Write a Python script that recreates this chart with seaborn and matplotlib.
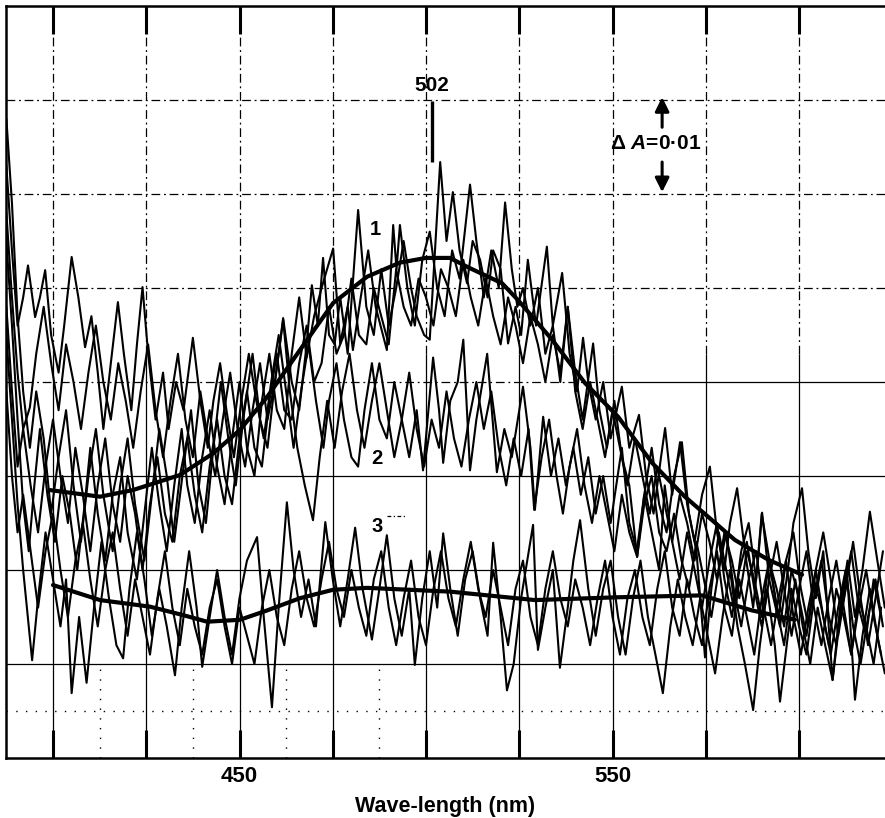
import numpy as np
import pandas as pd
import matplotlib
matplotlib.use("Agg")
import matplotlib.pyplot as plt
import seaborn as sns

# ---------------- data (ΔA in units of 0.01 above chart baseline) ----------------
# smooth (averaged) curves
S1_NM = [399.2, 412.6, 421.4, 434.0, 442.9, 450.1, 457.4, 466.2, 475.1, 484.2, 493.0, 500.0,
         506.4, 511.3, 520.4, 524.7, 533.8, 542.6, 551.5, 560.6, 569.4, 582.8, 591.7, 600.8]
S1_A = [2.85, 2.78, 2.85, 3.01, 3.24, 3.49, 3.84, 4.34, 4.84, 5.12, 5.27, 5.32,
        5.32, 5.22, 5.05, 4.87, 4.45, 3.99, 3.63, 3.14, 2.78, 2.32, 2.11, 1.95]
S3_NM = [400.0, 412.6, 426.0, 434.9, 441.3, 450.1, 457.4, 466.2, 475.1, 484.2, 506.4,
         529.2, 551.5, 574.0, 587.4, 598.9]
S3_A = [1.84, 1.68, 1.61, 1.52, 1.45, 1.47, 1.57, 1.70, 1.79, 1.81, 1.77,
        1.68, 1.71, 1.73, 1.57, 1.47]

# noisy recorded traces, group 1
TA_NM = [387.5, 389, 390.5, 392, 393.8, 395.5, 397.5, 399.5, 401.5, 403.5, 405.5, 407.5, 409.5, 411.5,
         413.5, 416, 418, 420, 422, 424.5, 426.5, 428.5, 430.5, 432.5, 435, 437, 439, 441, 443, 445,
         447, 449, 451, 453.5, 455.5, 457.5, 459.5, 461.7, 464, 466, 468, 469.4, 471, 472.4, 474,
         475.5, 477, 479, 481.8, 484, 486, 488, 490, 492, 494, 496, 497.5, 499.5, 501, 503.8, 505.5,
         507.2, 509, 511, 512.5, 514.5, 516.5, 518, 520, 522, 524, 525.5, 527.3, 529.5, 532.4, 534,
         536.5, 538.5, 540.5, 542.1, 543.5, 545.5, 547.5, 549.5, 552.5, 554.5, 557.1, 559, 561, 563,
         564.1, 566, 568.1, 570, 572, 574, 576.1, 578, 580, 581.5, 583.4, 585.5, 587.7, 589, 590.1,
         592, 594.9, 597, 598.5, 600.8, 602.5, 604.5, 606.5, 609, 611, 613, 615, 617, 619, 621, 623]
TA_A = [6.8, 5.9, 4.7, 3.9, 3.3, 3.9, 3.4, 2.6, 3.2, 3.7, 2.9, 2.3, 3.0, 3.5,
        2.8, 2.2, 2.9, 3.4, 2.7, 2.1, 2.8, 3.5, 3.0, 2.3, 3.1, 3.7, 2.9, 2.5, 3.3, 4.0,
        3.4, 2.9, 3.6, 4.3, 3.6, 3.3, 4.0, 4.68, 4.0, 3.7, 4.4, 5.03, 4.6, 5.32, 4.5,
        4.4, 4.9, 4.3, 5.83, 4.8, 4.5, 5.2, 4.6, 5.0, 5.5, 5.0, 4.7, 4.5, 4.45, 6.34, 5.5,
        6.02, 5.4, 5.05, 5.5, 5.3, 4.9, 5.4, 5.2, 4.41, 4.8, 4.5, 5.3, 4.6, 5.44, 4.6,
        5.16, 4.3, 3.9, 4.47, 4.0, 3.6, 4.0, 3.4, 3.95, 3.3, 3.65, 3.0, 2.6, 3.2,
        3.51, 2.8, 3.36, 2.7, 2.3, 2.8, 3.1, 2.4, 2.0, 2.5, 2.87, 2.2, 1.6, 2.1, 2.61,
        1.9, 1.4, 2.0, 2.5, 2.87, 2.2, 1.7, 2.2, 0.83, 1.6, 2.1, 1.5, 2.0, 2.62, 2.1, 1.6]

TB_NM = [387.5, 389, 390.5, 392, 393.5, 395, 396.5, 398.5, 400.5, 402.5, 404.5, 406.5, 408.5, 410,
         412, 414, 416, 418, 420, 422.5, 424.5, 426.5, 428.5, 430.5, 432.5, 434.5, 436, 438, 440,
         442, 444, 446, 448, 450, 452, 454, 456, 458, 460, 462, 464, 466, 468, 470, 472, 475.1,
         477, 479, 480.4, 482.5, 484.5, 486.5, 489.5, 491.2, 492.1, 493, 495, 497, 499, 501, 503, 505,
         507, 509, 511.8, 513.5, 515.5, 517.5, 519.5, 521.2, 523, 524.5, 526, 528, 530, 532, 534,
         536, 538, 540, 542, 544.8, 546.5, 548.5, 550.5, 552.5, 554.5, 556.6, 558.5, 560.5, 562.5,
         564.5, 566.5, 568.6, 570.5, 572.5, 574.8, 576.5, 578.5, 580.5, 582.5, 584.5, 586.5, 588.5,
         590, 592.5, 594.5, 596.5, 598.5, 600.5, 602.5, 604.5, 606.5, 608.5, 610.5, 612.5, 614.5,
         616.5, 618.5, 620.5, 622.5]
TB_A = [5.5, 4.6, 3.6, 2.7, 2.2, 2.9, 3.5, 2.8, 2.3, 3.0, 2.6, 2.0, 2.7, 3.3,
        2.6, 2.1, 2.8, 3.2, 2.4, 1.9, 2.6, 3.3, 2.7, 2.2, 2.9, 3.5, 2.9, 2.5, 3.2,
        3.7, 3.1, 2.7, 3.4, 4.0, 3.3, 3.0, 3.8, 4.3, 3.7, 3.5, 4.3, 4.9, 4.26, 4.7, 5.0, 5.42,
        4.41, 4.8, 4.34, 4.9, 5.4, 4.8, 4.34, 5.67, 5.2, 5.67, 5.0, 4.6, 5.3, 5.6, 5.0, 4.7,
        5.4, 5.1, 6.1, 5.5, 4.9, 5.4, 5.0, 5.91, 5.2, 4.8, 5.0, 4.6, 5.0, 4.3, 4.6,
        4.0, 4.8, 4.1, 3.6, 4.41, 3.7, 3.3, 3.8, 3.2, 2.9, 2.14, 2.8, 3.3, 2.7,
        2.4, 3.0, 3.36, 2.6, 2.2, 1.07, 1.8, 2.4, 2.0, 1.6, 2.2, 2.5, 1.9,
        2.6, 2.0, 1.5, 2.1, 2.4, 1.8, 1.4, 2.0, 2.4, 1.9, 1.3, 1.8, 2.3,
        1.7, 1.2, 1.7, 2.2]

TC_NM = [387.5, 389, 390.5, 392, 394, 396, 398, 400, 402, 404, 406, 408, 410, 412, 414, 416, 418,
         420, 422, 424, 426, 428, 430, 432, 434, 436, 438, 440, 442, 444, 446, 448, 450, 452, 454,
         456, 458, 460, 462, 464, 466, 468, 470, 472, 474, 476, 478, 480, 482, 484, 486, 488, 490,
         492, 494, 496, 498, 500, 502, 504, 506, 508, 510, 512, 514, 516, 518, 520, 522, 524, 526,
         528, 530, 532, 534, 536, 538, 540, 542, 544, 546, 548, 550, 552, 554, 556, 558, 560, 562,
         564, 566, 568, 570, 572, 574, 576, 578, 580, 582, 584, 586, 588, 590, 592, 594, 596, 598,
         600, 602, 604, 606, 608, 610, 612, 614, 616, 618, 620, 622]
TC_A = [4.8, 3.9, 3.1, 3.5, 2.9, 2.4, 3.1, 3.6, 3.0, 2.5, 3.3, 2.8, 2.2, 2.9, 3.4, 2.7, 2.3,
        3.0, 2.6, 2.0, 2.7, 3.2, 2.6, 2.3, 3.0, 3.4, 2.8, 2.4, 3.1, 3.6, 3.0, 2.7, 3.4, 3.9, 3.3,
        3.1, 3.8, 4.3, 3.7, 3.6, 4.2, 4.6, 4.0, 4.2, 4.8, 4.3, 4.5, 5.1, 4.5, 4.4, 5.0, 4.7, 4.4,
        5.2, 4.8, 4.6, 5.1, 4.9, 4.6, 5.2, 5.0, 4.7, 5.3, 4.9, 4.6, 5.1, 4.7, 4.4, 4.9, 4.6, 4.2,
        4.7, 4.4, 4.0, 4.5, 4.1, 4.8, 3.9, 3.5, 4.0, 3.6, 3.2, 3.7, 3.3, 2.9, 3.4, 3.0, 2.6, 3.1,
        2.7, 2.3, 2.8, 2.5, 2.1, 2.6, 2.3, 1.9, 2.4, 2.1, 1.7, 2.2, 1.9, 1.5, 2.1, 1.8, 1.4, 2.0,
        1.7, 1.3, 1.9, 1.6, 1.2, 1.8, 1.5, 1.1, 1.7, 1.4, 1.0, 1.6]

# group 2
TD_NM = [387.5, 389, 390.5, 392, 393.3, 395.2, 396.5, 397.9, 399.5, 401.5, 403, 405, 406.8, 408.6,
         410.3, 412, 413.5, 415.5, 417.4, 419, 421, 422.5, 424, 425.5, 427.5, 429.5, 431, 433, 435,
         437.5, 439.5, 441.5, 443, 444.8, 446.5, 448.5, 450.5, 452.5, 454.5, 456.5, 458.5, 460.5,
         462.5, 464.5, 466.5, 468.5, 470.5, 472.5, 474, 476, 478, 480, 481.8, 483.5, 485.5, 487.5,
         489.5, 491.5, 493.5, 495.5, 497.5, 499.2, 501.9, 503.5, 504.6, 506.5, 508.5, 510, 511.8,
         513.5, 516.4, 519, 521, 523, 526, 528, 529.2, 531.4, 533.5, 535.5, 537.5, 539.5, 541.5,
         543.5, 545.5, 547.5, 549.5, 552.5, 554.5, 556.5, 558.5, 560.5, 562.5, 564, 566, 568, 570,
         572, 574, 576, 578, 580, 582, 584, 586, 588, 590, 592, 594, 596, 598, 600, 602, 604, 606,
         608, 610, 612, 614, 616, 618, 620, 622]
TD_A = [6.3, 5.4, 4.6, 4.9, 5.24, 4.69, 4.9, 5.19, 4.5, 4.1, 4.6, 5.33, 4.9, 4.37,
        4.7, 4.1, 3.5, 4.2, 4.85, 4.3, 3.7, 4.4, 5.01, 4.3, 3.6, 4.1, 3.5, 4.0, 3.7,
        4.47, 3.8, 3.3, 3.8, 4.2, 3.7, 3.2, 3.8, 4.3, 3.8, 3.4, 4.0, 4.5,
        3.9, 3.3, 3.9, 4.4, 3.8, 3.3, 3.8, 4.2, 3.6, 3.2, 3.1, 3.7, 4.2, 3.6,
        3.4, 4.0, 3.6, 3.2, 3.7, 3.06, 4.26, 3.7, 3.14, 3.8, 4.0, 4.45, 3.06,
        3.6, 4.3, 3.04, 3.5, 3.2, 3.95, 3.3, 2.64, 3.63, 3.0, 3.4, 2.9, 3.3, 2.8,
        3.2, 2.6, 3.0, 2.5, 3.3, 2.5, 2.2, 2.8, 2.4, 2.0, 2.9, 2.3, 1.9, 2.4,
        2.0, 1.6, 2.1, 2.5, 1.9, 1.5, 2.0, 2.3, 1.8, 1.4, 1.9, 2.3, 1.8, 1.3, 1.8, 2.2, 1.6, 1.2,
        1.7, 2.1, 1.6, 1.1, 1.6, 2.0, 1.5, 1.1]

TE_NM = [387.5, 389, 390.5, 392, 393.8, 395.5, 397.5, 399.5, 401.5, 403.5, 405.5, 407.5, 409.5,
         411.5, 413.5, 415.5, 417.5, 419.5, 421.5, 423.5, 425.5, 427.5, 429.5, 431.5, 433.5, 435.5,
         437.5, 439.5, 441.5, 443.5, 445.5, 447.5, 449.5, 451.5, 453.5, 455.5, 457.5, 459.5, 461.7,
         463.5, 465.5, 467.5, 469.7, 471.5, 473.5, 475.5, 477.5, 479.5, 481.5, 483.5, 485.5, 487.5,
         489.5, 491.5, 493.5, 495.5, 497.5, 499.5, 501.5, 503.5, 505.5, 507.5, 509.5, 511.5, 513.5,
         515.5, 517.5, 519.5, 521.5, 523.5, 525.5, 527.5, 529, 531, 533, 535, 536.7, 538.5, 540.5,
         542.5, 544.5, 546.5, 548.5, 550.5, 552.5, 554.5, 556.6, 558.5, 560.5, 562.5, 564.5, 566.5,
         568.5, 570.5, 572.5, 574.5, 576.5, 578.5, 580.5, 582.5, 584.5, 586.5, 588.5, 590.5, 592.5,
         594.5, 596.5, 598.5, 600.5, 602.5, 604.5, 606.5, 608.5, 610.5, 612.5, 614.5, 616.5, 618.5,
         620.5, 622.5]
TE_A = [5.8, 4.9, 4.1, 3.5, 3.73, 4.3, 4.8, 4.2, 3.7, 4.4, 4.0, 3.5, 4.1,
        4.6, 4.0, 3.6, 4.2, 3.8, 3.3, 3.9, 4.4, 3.7, 3.2, 3.8, 4.3, 3.6,
        3.2, 3.9, 3.4, 3.0, 3.6, 4.1, 3.5, 3.1, 3.7, 4.2, 3.6, 4.0, 4.66,
        3.9, 3.3, 2.9, 2.53, 3.2, 3.8, 3.3, 3.9, 4.3, 3.7, 3.3, 3.8, 4.2,
        3.7, 3.2, 3.6, 4.1, 3.5, 3.1, 3.6, 3.3, 3.9, 3.4, 3.1, 3.6, 4.0,
        3.5, 3.9, 3.3, 2.9, 3.4, 3.0, 3.5, 2.64, 3.2, 3.6, 3.0, 2.6, 3.1, 3.5,
        2.9, 2.5, 3.0, 2.6, 2.2, 2.8, 2.4, 2.14, 2.7, 3.0, 2.4, 2.2, 2.6,
        2.1, 1.8, 2.3, 1.9, 1.5, 2.0, 2.4, 1.8, 1.4, 1.9, 2.2, 1.6, 1.2,
        1.7, 2.1, 1.5, 1.1, 1.6, 2.0, 1.5, 1.1, 1.6, 2.0, 1.4, 1.0, 1.5,
        1.9, 1.4]

# group 3
TF_NM = [387.5, 389, 390.5, 392, 394.4, 396, 398, 400, 402, 403.5, 405, 407, 409, 411, 413, 415,
         417, 418.8, 420.5, 422.5, 424.5, 426.5, 428.5, 430.5, 432.7, 434.5, 436.5, 438.5, 440, 442,
         444, 446, 448, 450, 452, 454.7, 456.5, 458.7, 460.5, 462.7, 464.5, 466.5, 468.5, 470.5,
         473, 475, 477, 479, 481, 483, 485.5, 487.5, 489.5, 491.5, 493.5, 495.5, 497, 499, 501, 503,
         504.6, 506.5, 508.5, 510.5, 512.5, 514.5, 516.5, 518, 520, 521.7, 523.5, 525.5, 528.7,
         530, 532, 534, 535.9, 538, 539.5, 541.3, 543.5, 545.5, 547.5, 549.5, 551.5, 553.5, 555.5,
         557.5, 559.5, 561.5, 563.5, 565.5, 567.5, 569.5, 571.5, 573.5, 575.5, 577.5, 579.5, 581.5,
         583.5, 585.5, 587.7, 589.5, 591.5, 593.5, 594.9, 597, 599, 601, 603, 605, 607, 609, 611,
         613, 615, 617, 619, 621, 623]
TF_A = [4.5, 3.6, 2.7, 2.0, 1.04, 1.7, 2.4, 1.9, 1.4, 1.9, 0.69, 1.5, 0.8, 1.6, 2.3, 1.7,
        1.2, 1.06, 1.8, 2.4, 1.9, 1.3, 1.8, 1.4, 0.88, 1.6, 2.2, 1.6, 0.97, 1.5,
        2.0, 1.5, 1.1, 1.7, 2.1, 2.35, 1.5, 0.54, 1.6, 2.72, 2.0, 1.5, 1.9, 1.4,
        2.51, 1.9, 1.4, 1.9, 2.45, 1.8, 1.26, 1.8, 2.37, 1.7, 1.3, 1.8, 0.99, 1.7, 2.2, 1.6,
        2.39, 1.8, 1.3, 1.9, 2.2, 1.7, 1.3, 2.29, 1.5, 0.72, 1.0, 1.7, 2.48,
        1.15, 1.6, 2.0, 0.96, 1.6, 2.1, 2.53, 1.8, 1.3, 1.8, 2.1, 1.5, 1.1, 1.7,
        2.1, 1.5, 1.1, 0.69, 1.4, 1.9, 1.5, 1.2, 1.7, 1.3, 0.9, 1.5, 2.0,
        1.4, 1.0, 0.51, 1.2, 1.8, 1.2, 0.6, 1.3, 1.9, 1.4, 1.0, 1.6, 1.2, 0.83, 1.5,
        1.9, 0.62, 1.3, 1.8, 1.3, 0.9]

TG_NM = [387.5, 389, 390.5, 392, 394, 396, 398, 400, 402, 404, 406, 408, 410, 412, 414, 416, 418,
         420, 422, 424, 426, 428, 430, 432, 434, 436, 438, 440, 442, 444, 446, 448, 450, 452, 454,
         456, 458, 460, 462, 464, 466, 468, 470, 472, 474, 476, 478, 480, 482, 484, 486, 488, 490,
         492, 494, 496, 498, 500, 502, 504, 506, 508, 510, 512, 514, 516, 518, 520, 522, 524, 526,
         528, 530, 532, 534, 536, 538, 540, 542, 544, 546, 548, 550, 552, 554, 556, 558, 560, 562,
         564, 566, 568, 570, 572, 574, 576, 578, 580, 582, 584, 586, 588, 590, 592, 594, 596, 598,
         600, 602, 604, 606, 608, 610, 612, 614, 616, 618, 620, 622]
TG_A = [3.9, 3.0, 2.4, 2.8, 2.2, 1.6, 2.2, 2.6, 2.0, 1.5, 2.1, 2.5, 1.9, 1.4, 2.0, 2.4, 1.8,
        1.3, 1.9, 1.5, 1.1, 1.7, 2.2, 1.6, 1.2, 1.8, 1.4, 1.1, 1.6, 1.9, 1.4, 1.0, 1.6, 1.3, 1.0,
        1.6, 2.0, 1.5, 1.2, 1.8, 2.2, 1.7, 1.4, 1.9, 2.3, 1.8, 1.5, 2.0, 1.6, 1.3, 1.9, 2.2, 1.6,
        1.2, 1.7, 2.1, 1.5, 1.2, 1.8, 2.2, 1.7, 1.4, 1.9, 2.3, 1.8, 1.5, 2.0, 1.6, 1.2, 1.8, 2.1,
        1.5, 1.2, 1.8, 2.2, 1.7, 1.4, 1.9, 1.6, 1.2, 1.7, 2.1, 1.5, 1.1, 1.7, 2.0, 1.5, 1.2, 1.8,
        2.2, 1.6, 1.3, 1.9, 1.5, 1.2, 1.8, 2.2, 1.6, 1.3, 1.9, 1.5, 1.1, 1.7, 2.1, 1.6, 1.2, 1.8,
        1.4, 1.1, 1.7, 2.1, 1.5, 1.2, 1.8, 2.2, 1.6, 1.3, 1.9, 1.5]

TICK_NM = [400, 425, 450, 475, 500, 525, 550, 575, 600]
TICK_LABELS = ["", "", "450", "", "", "", "550", "", ""]
GRID_A = [1, 2, 3, 4, 5, 6, 7]
PEAK_NM = 501.6
PEAK_LABEL = "502"
CURVE_LABELS = [("1", 486.3, 5.62), ("2", 486.9, 3.19), ("3", 486.9, 2.46)]

# ---------------- figure ----------------
sns.set_theme(style="white")
plt.rcParams["font.family"] = ["Liberation Sans", "DejaVu Sans"]
plt.rcParams["font.weight"] = "bold"
plt.rcParams["text.color"] = "black"
plt.rcParams["axes.labelcolor"] = "black"
plt.rcParams["xtick.color"] = "black"
plt.rcParams["xtick.labelcolor"] = "black"
plt.rcParams["mathtext.fontset"] = "custom"
plt.rcParams["mathtext.rm"] = "Liberation Sans:bold"
plt.rcParams["mathtext.it"] = "Liberation Sans:italic:bold"
plt.rcParams["lines.solid_joinstyle"] = "round"

fig = plt.figure(figsize=(8.85, 8.18), dpi=100)
ax = fig.add_axes([6 / 885, 60 / 818, 879 / 885, 752 / 818])
ax.set_facecolor("white")

XMIN, XMAX = 387.4, 623.05
ax.set_xlim(XMIN, XMAX)
ax.set_ylim(0, 8)

DASHDOT = (0, (7, 3, 1.5, 3))
# chart-paper grid
for x in TICK_NM:
    ax.vlines(x, 0, 4.3, color="black", lw=0.9, zorder=1)
    ax.vlines(x, 4.3, 8, color="black", lw=0.9, linestyles=DASHDOT, zorder=1)
for a in GRID_A:
    if a <= 3:
        ax.hlines(a, XMIN, XMAX, color="black", lw=0.9, zorder=1)
    elif a == 4:
        ax.hlines(a, XMIN, 550, color="black", lw=0.9, linestyles=DASHDOT, zorder=1)
        ax.hlines(a, 550, XMAX, color="black", lw=0.9, zorder=1)
    else:
        ax.hlines(a, XMIN, XMAX, color="black", lw=0.9, linestyles=DASHDOT, zorder=1)
ax.hlines(0.5, XMIN, XMAX, color="black", lw=1.0, linestyles=(0, (1, 6)), zorder=1)
for x in [412.5, 437.5, 462.5, 487.5]:
    ax.vlines(x, 0, 1, color="black", lw=1.0, linestyles=(0, (1, 6)), zorder=1)

# noisy traces
traces = {"A": (TA_NM, TA_A), "B": (TB_NM, TB_A), "C": (TC_NM, TC_A), "D": (TD_NM, TD_A),
          "E": (TE_NM, TE_A), "F": (TF_NM, TF_A), "G": (TG_NM, TG_A)}
rows = []
for name, (xs, ys) in traces.items():
    for x, y in zip(xs, ys):
        rows.append((name, x, y))
df = pd.DataFrame(rows, columns=["trace", "nm", "dA"])
sns.lineplot(data=df, x="nm", y="dA", units="trace", estimator=None, sort=False,
             color="black", lw=1.5, ax=ax, zorder=3)

# smooth curves
sns.lineplot(x=S1_NM, y=S1_A, color="black", lw=3.0, ax=ax, zorder=4)
sns.lineplot(x=S3_NM, y=S3_A, color="black", lw=3.0, ax=ax, zorder=4)

# axes styling
for side in ["left", "top", "bottom"]:
    ax.spines[side].set_visible(True)
    ax.spines[side].set_color("black")
    ax.spines[side].set_linewidth(1.8)
ax.spines["right"].set_visible(False)
ax.set_xticks(TICK_NM)
ax.set_xticklabels(TICK_LABELS, fontsize=16, fontweight="bold", color="black")
ax.set_yticks([])
ax.tick_params(axis="x", which="major", direction="in", top=True, bottom=True,
               length=20, width=2.2, color="black", pad=6)
ax.set_xlabel("Wave-length (nm)", fontsize=15.5, fontweight="bold", labelpad=6, color="black")
ax.set_ylabel("")

# annotations
ax.text(PEAK_NM, 7.05, PEAK_LABEL, ha="center", va="bottom", fontsize=15, fontweight="bold")
ax.vlines(PEAK_NM, 6.34, 6.99, color="black", lw=2.4, zorder=5)
for lab, x, y in CURVE_LABELS:
    ax.text(x, y, lab, ha="center", va="center", fontsize=14.5, fontweight="bold", zorder=6)
ax.hlines(2.57, 489.5, 494.5, color="black", lw=0.9, linestyles=(0, (3, 2, 1, 2)))

ax.text(561.7, 6.54, "Δ $\\mathit{A}$=0·01", ha="center", va="center",
        fontsize=15, fontweight="bold")
ax.annotate("", xy=(563.3, 7.03), xytext=(563.3, 6.71),
            arrowprops=dict(arrowstyle="-|>,head_width=0.35,head_length=0.7",
                            color="black", lw=2.2, shrinkA=0, shrinkB=0))
ax.annotate("", xy=(563.3, 6.02), xytext=(563.3, 6.34),
            arrowprops=dict(arrowstyle="-|>,head_width=0.35,head_length=0.7",
                            color="black", lw=2.2, shrinkA=0, shrinkB=0))

fig.savefig("out.png", dpi=100, facecolor="white")
